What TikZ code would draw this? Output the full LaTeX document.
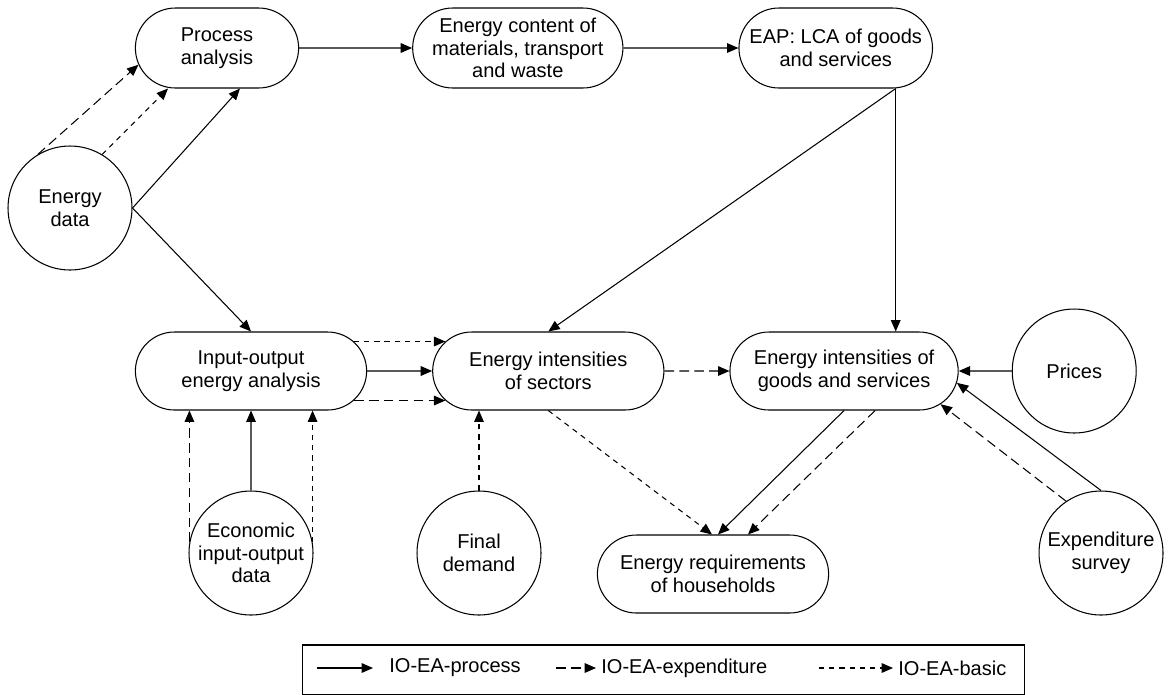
\documentclass[tikz,border=0pt]{standalone}
\usepackage{fontspec}
\setmainfont{Liberation Sans}
\usetikzlibrary{shapes.misc, arrows.meta, positioning, calc}
\tikzset{
    stage/.style={rounded rectangle, draw, line width=0.6pt, minimum width=3.5cm,
                  minimum height=1.6cm, align=center, font=\fontsize{11.4}{12.9}\selectfont},
    widestage/.style={stage, minimum width=4.86cm, minimum height=1.56cm},
    source/.style={circle, draw, line width=0.6pt, minimum size=2.48cm, inner sep=0pt,
                   align=center, font=\fontsize{11.4}{12.9}\selectfont},
    legbox/.style={rectangle, draw, line width=0.6pt, minimum width=14.46cm, minimum height=1cm},
    legtext/.style={anchor=west, inner sep=0pt, font=\fontsize{11.4}{12.9}\selectfont},
    tip/.style={-{Triangle[length=6.5pt, width=5.5pt]}, line width=0.6pt},
    viaprocess/.style={tip},
    viaexpend/.style={tip, dash pattern=on 5.5pt off 3pt},
    viabasic/.style={tip, dash pattern=on 3pt off 2.8pt},
}

\begin{document}
\begin{tikzpicture}[x=0.02cm, y=-0.02cm]
    \useasboundingbox (0,0) rectangle (1168,694);

    % top row
    \node[stage] (proc) at (217,48) {Process\\analysis};
    \node[stage, right=2.26cm of proc] (content) {Energy content of\\materials, transport\\and waste};
    \node[stage, right=2.3cm of content] (eap) {EAP: LCA of goods\\and services};

    \node[source] (edata) at (70,208) {Energy\\data};

    % middle row
    \node[widestage] (ioea) at (251,371) {Input-output\\energy analysis};
    \node[widestage, right=1.3cm of ioea] (sectors) {Energy intensities\\of sectors};
    \node[widestage, minimum width=4.8cm, right=1.3cm of sectors] (goods) {Energy intensities of\\goods and services};
    \node[source, right=1.06cm of goods] (prices) {Prices};

    % bottom row
    \node[source] (econ) at (251,553) {Economic\\input-output\\data};
    \node[source] (fdemand) at (479,553) {Final\\demand};
    \node[widestage] (house) at (713,574) {Energy requirements\\of households};
    \node[source] (survey) at (1101,553) {Expenditure\\survey};

    \draw[viaprocess] (proc) -- (content);
    \draw[viaprocess] (content) -- (eap);

    \draw[viaexpend] (edata.121) -- (proc.192);
    \draw[viabasic] (edata.59) -- ([xshift=-0.98cm]proc.south);
    \draw[viaprocess] (edata.east) -- ([xshift=0.46cm]proc.south);
    \draw[viaprocess] (edata.east) -- (ioea.north);

    \draw[viaprocess] ([xshift=1.2cm]eap.south) -- (sectors.north);
    \draw[viaprocess] ([xshift=1.2cm]eap.south) -- ([xshift=1.2cm]eap.south |- goods.north);

    \draw[viabasic] (ioea.16) -- (sectors.164);
    \draw[viaprocess] (ioea) -- (sectors);
    \draw[viaexpend] (ioea.-16) -- (sectors.196);

    \draw[viaexpend] (econ.170) -- (econ.170 |- ioea.south);
    \draw[viaprocess] (econ) -- (ioea);
    \draw[viabasic] (econ.10) -- (econ.10 |- ioea.south);

    \draw[viabasic] (fdemand) -- (fdemand |- sectors.south);

    \draw[viaexpend] (sectors) -- (goods);
    \draw[viaprocess] (prices) -- (goods);

    \draw[viabasic] (sectors.south) -- ([xshift=-0.02cm]house.north);
    \draw[viaprocess] (goods.south) -- ([xshift=0.1cm]house.north);
    \draw[viaexpend] ([xshift=0.62cm]goods.south) -- ([xshift=0.7cm]house.north);

    \draw[viaprocess] (survey.north) -- (goods.-6);
    \draw[viaexpend] (survey.124) -- (goods.-19);

    % legend
    \node[legbox] (legend) at (663.5,670) {};
    \node[legtext] (tproc) at (389,668) {IO-EA-process};
    \node[legtext] (texp) at (601,668) {IO-EA-expenditure};
    \node[legtext] (tbasic) at (898,668) {IO-EA-basic};
    \coordinate (aproc) at (317,668);
    \coordinate (aexp) at (556,668);
    \coordinate (abasic) at (819,668);
    \draw[viaprocess] (aproc) -- ([xshift=-0.32cm]tproc.west);
    \draw[viaexpend] (aexp) -- ([xshift=-0.1cm]texp.west);
    \draw[viabasic] (abasic) -- ([xshift=-0.1cm]tbasic.west);
\end{tikzpicture}
\end{document}
